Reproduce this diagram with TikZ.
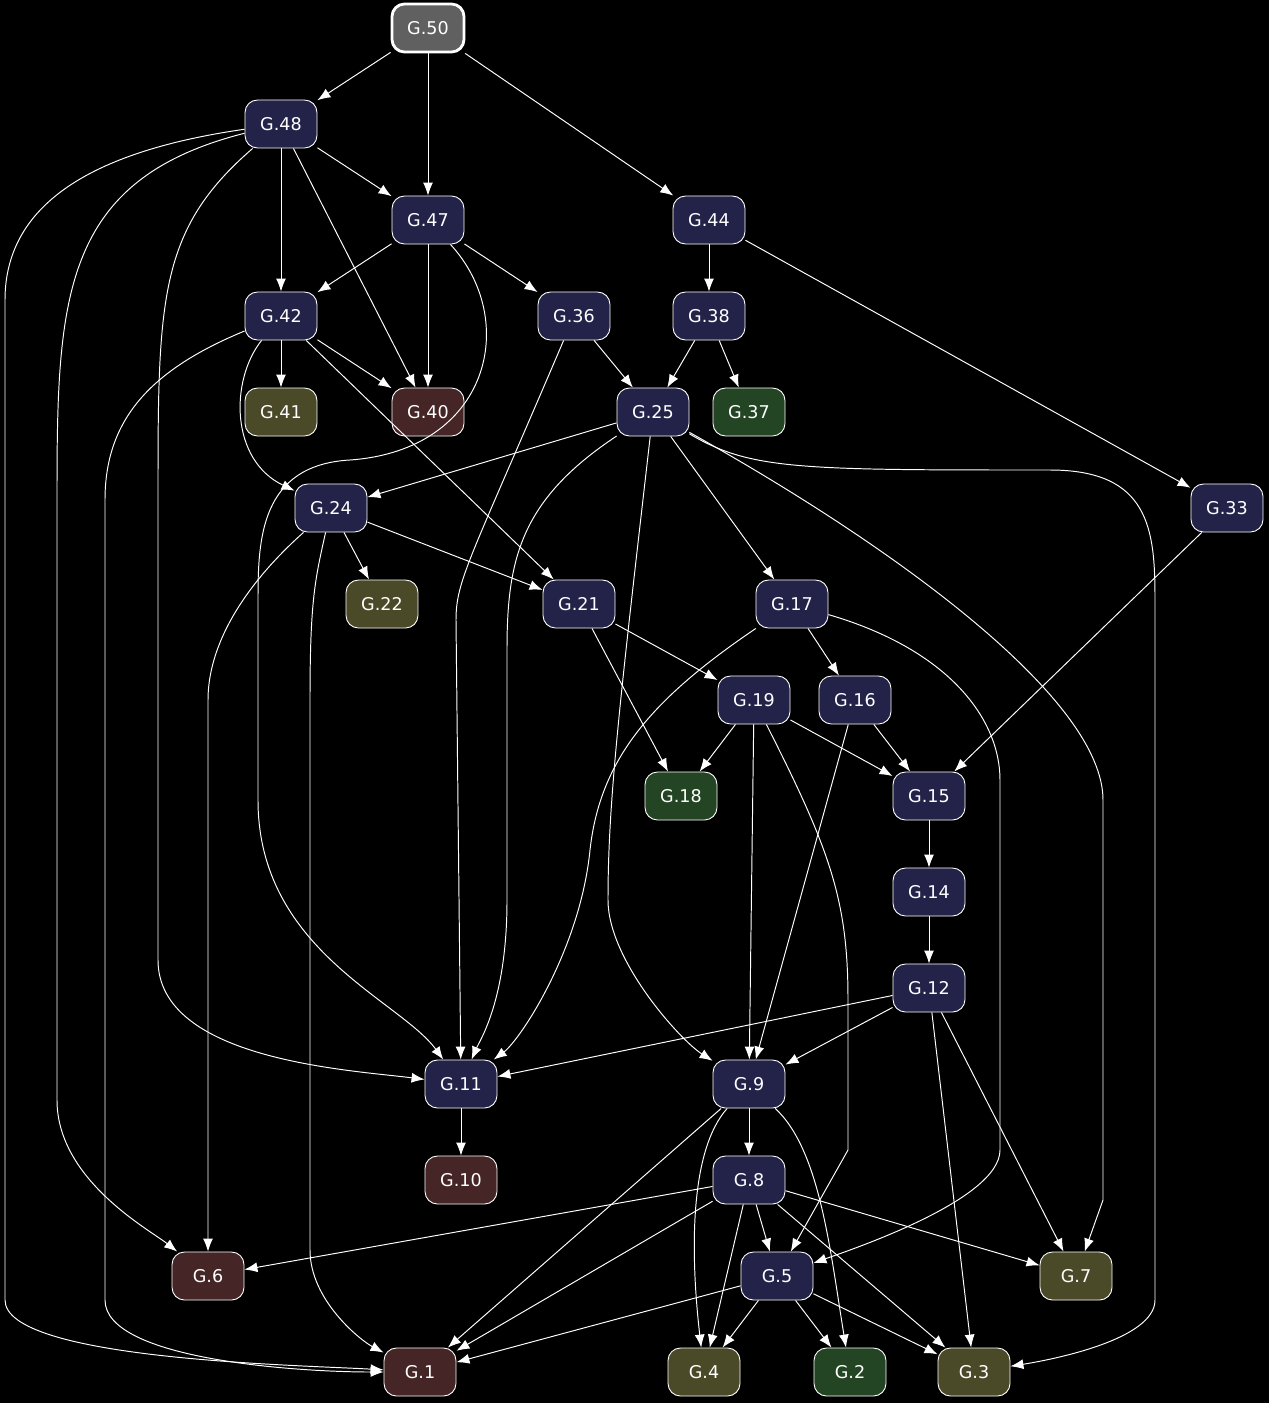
\documentclass[tikz,border=0pt]{standalone}
\usepackage{fontspec}
\setmainfont{DejaVu Sans}
\usetikzlibrary{arrows.meta}
\definecolor{navy}{HTML}{23234A}
\definecolor{maroon}{HTML}{452525}
\definecolor{olive}{HTML}{4A4A28}
\definecolor{leaf}{HTML}{234523}
\definecolor{slate}{HTML}{606060}
\begin{document}
\begin{tikzpicture}
    [
    x=0.02cm, y=-0.02cm,
    box/.style={rectangle,rounded corners=2.5mm,draw=white,text=white,font=\fontsize{10}{12}\selectfont,minimum width=1.44cm,minimum height=0.96cm,inner sep=0pt,line width=0.5pt},
    inner/.style={box,fill=navy},
    dead/.style={box,fill=maroon},
    warn/.style={box,fill=olive},
    done/.style={box,fill=leaf},
    root/.style={box,fill=slate,line width=1.6pt},
    edge/.style={draw=white,line width=0.55pt,-{Latex[length=2.6mm,width=2mm]}}
    ]
    \fill[black] (0,0) rectangle (1269,1403);
    \useasboundingbox (0,0) rectangle (1269,1403);
    \node (n50) at (428,28) [root] {G.50};
    \node (n48) at (281,124) [inner] {G.48};
    \node (n47) at (428,220) [inner] {G.47};
    \node (n44) at (709,220) [inner] {G.44};
    \node (n42) at (281,316) [inner] {G.42};
    \node (n36) at (574,316) [inner] {G.36};
    \node (n38) at (709,316) [inner] {G.38};
    \node (n41) at (281,412) [warn] {G.41};
    \node (n40) at (428,412) [dead] {G.40};
    \node (n25) at (653,412) [inner] {G.25};
    \node (n37) at (749,412) [done] {G.37};
    \node (n24) at (331,508) [inner] {G.24};
    \node (n33) at (1227,508) [inner] {G.33};
    \node (n22) at (382,604) [warn] {G.22};
    \node (n21) at (579,604) [inner] {G.21};
    \node (n17) at (792,604) [inner] {G.17};
    \node (n19) at (754,700) [inner] {G.19};
    \node (n16) at (855,700) [inner] {G.16};
    \node (n18) at (681,796) [done] {G.18};
    \node (n15) at (929,796) [inner] {G.15};
    \node (n14) at (929,892) [inner] {G.14};
    \node (n12) at (929,988) [inner] {G.12};
    \node (n11) at (461,1084) [inner] {G.11};
    \node (n9) at (749,1084) [inner] {G.9};
    \node (n10) at (461,1180) [dead] {G.10};
    \node (n8) at (749,1180) [inner] {G.8};
    \node (n6) at (208,1276) [dead] {G.6};
    \node (n5) at (777,1276) [inner] {G.5};
    \node (n7) at (1076,1276) [warn] {G.7};
    \node (n1) at (420,1372) [dead] {G.1};
    \node (n4) at (704,1372) [warn] {G.4};
    \node (n2) at (850,1372) [done] {G.2};
    \node (n3) at (974,1372) [warn] {G.3};
    % straight edges
    \foreach \a/\b in {50/48,50/47,50/44,48/47,48/42,48/40,47/42,47/40,47/36,
        44/38,44/33,42/41,42/40,42/21,36/25,38/25,38/37,25/24,25/17,33/15,
        24/22,24/21,21/19,21/18,17/16,19/18,19/15,19/9,16/15,16/9,15/14,14/12,
        12/11,12/9,12/7,12/3,11/10,9/8,9/1,8/6,8/1,8/4,8/5,8/3,8/7,
        5/1,5/4,5/2,5/3}
      \draw [edge] (n\a) -- (n\b);
    % curved edges
    \draw [edge] (n48) .. controls (158,230) and (158,300) .. (158,500) -- (158,960) .. controls (158,1060) and (350,1070) .. (n11);
    \draw [edge] (n48) .. controls (60,180) and (57,300) .. (57,500) -- (57,1100) .. controls (57,1180) and (150,1230) .. (n6);
    \draw [edge] (n48) .. controls (100,150) and (5,200) .. (5,300) -- (5,1300) .. controls (5,1360) and (300,1365) .. (n1);
    \draw [edge] (n47) .. controls (520,320) and (490,450) .. (350,460) .. controls (260,465) and (258,540) .. (258,600) -- (258,800) .. controls (258,950) and (400,1000) .. (n11);
    \draw [edge] (n42) .. controls (230,380) and (230,460) .. (n24);
    \draw [edge] (n42) .. controls (150,370) and (105,420) .. (105,500) -- (105,1300) .. controls (105,1360) and (300,1372) .. (n1);
    \draw [edge] (n36) .. controls (470,560) and (456,580) .. (456,620) -- (n11);
    \draw [edge] (n25) .. controls (520,500) and (507,560) .. (507,650) -- (507,900) .. controls (507,1000) and (480,1040) .. (n11);
    \draw [edge] (n25) .. controls (620,700) and (608,800) .. (608,900) .. controls (608,960) and (680,1040) .. (n9);
    \draw [edge] (n25) .. controls (900,550) and (1103,700) .. (1103,800) -- (1103,1200) -- (n7);
    \draw [edge] (n25) .. controls (750,470) and (800,470) .. (1050,470) .. controls (1150,470) and (1155,530) .. (1155,600) -- (1155,1300) .. controls (1155,1340) and (1050,1360) .. (n3);
    \draw [edge] (n24) .. controls (250,580) and (208,640) .. (208,700) -- (n6);
    \draw [edge] (n24) .. controls (315,580) and (310,600) .. (310,700) -- (310,1250) .. controls (310,1300) and (360,1340) .. (n1);
    \draw [edge] (n17) .. controls (650,700) and (600,760) .. (590,850) .. controls (580,950) and (520,1040) .. (n11);
    \draw [edge] (n17) .. controls (950,650) and (1000,720) .. (1000,780) -- (1000,1150) .. controls (1000,1200) and (850,1250) .. (n5);
    \draw [edge] (n19) .. controls (830,850) and (848,900) .. (848,1000) -- (848,1150) -- (n5);
    \draw [edge] (n9) .. controls (690,1150) and (690,1250) .. (n4);
    \draw [edge] (n9) .. controls (820,1150) and (830,1250) .. (n2);
\end{tikzpicture}
\end{document}
